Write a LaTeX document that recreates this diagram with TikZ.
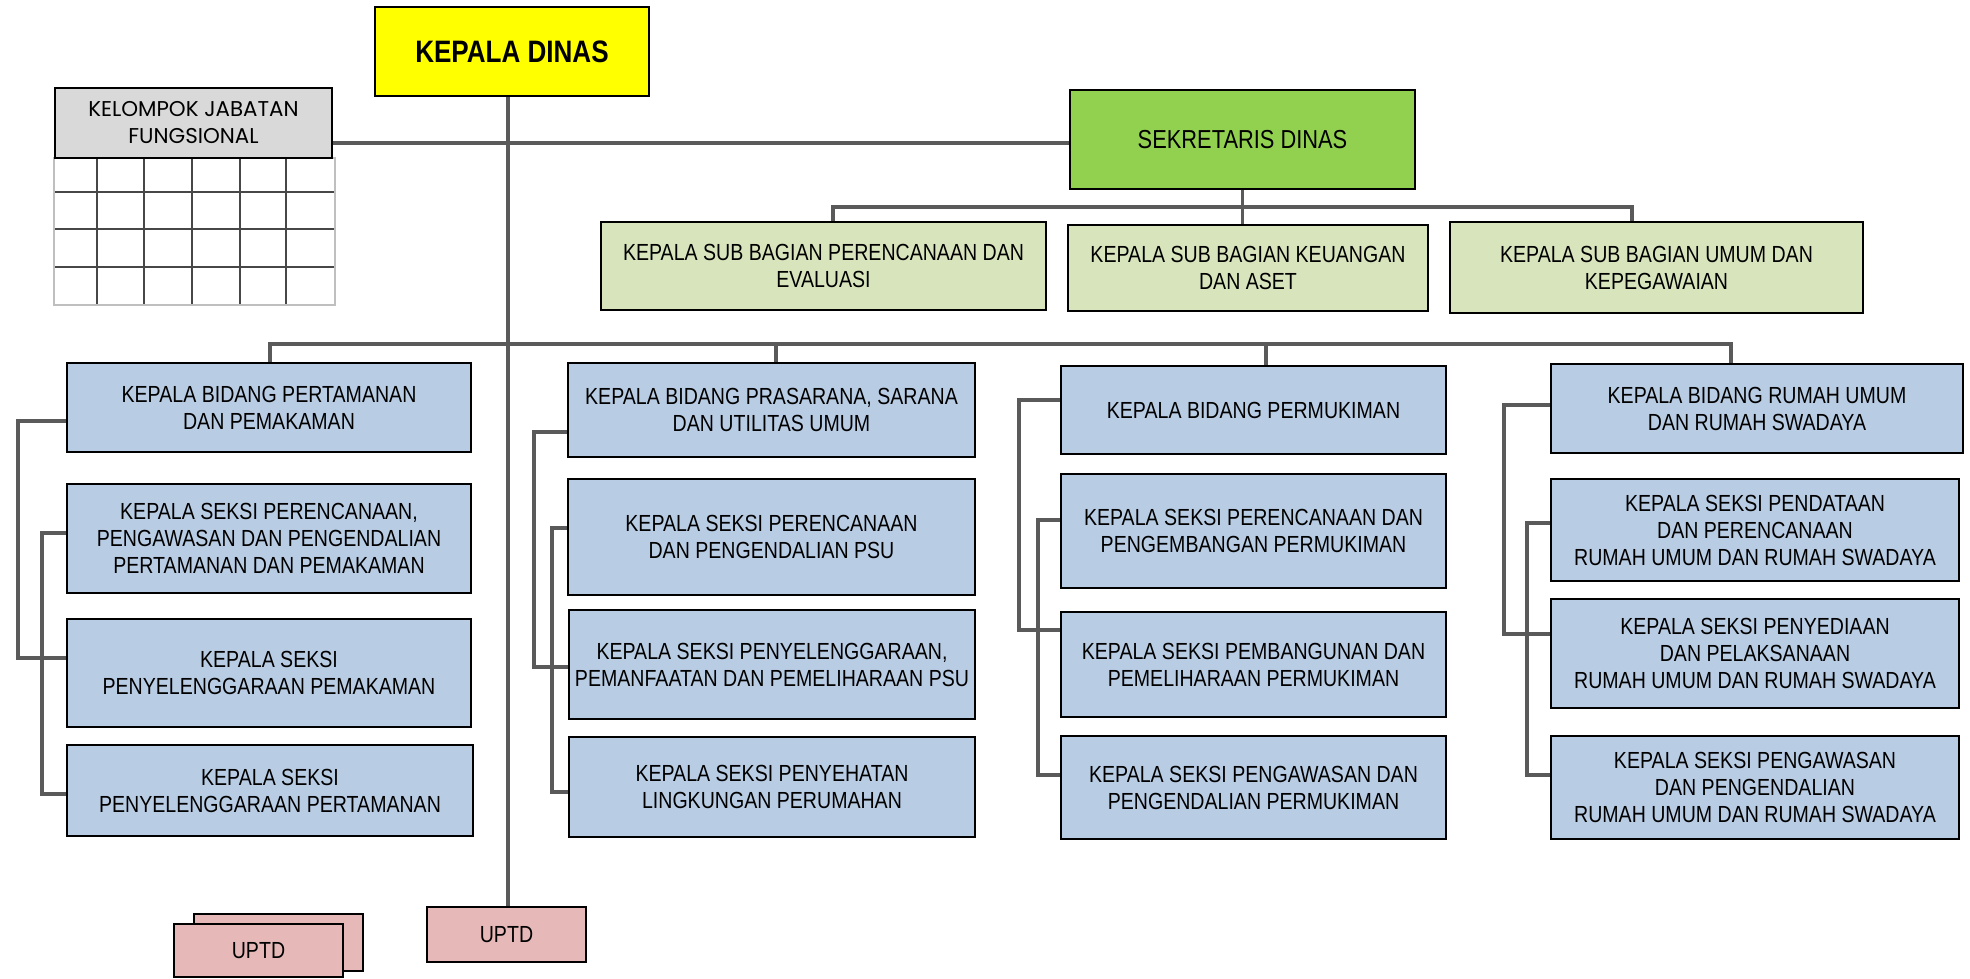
\documentclass[tikz,border=0pt]{standalone}
\usepackage{fontspec}
\newfontfamily\narrowsans{Liberation Sans}[FakeStretch=0.84]
\newfontfamily\geosans{Poppins}

\definecolor{headYellow}{HTML}{FFFF00}
\definecolor{groupGray}{HTML}{D9D9D9}
\definecolor{secGreen}{HTML}{92D050}
\definecolor{subOlive}{HTML}{D8E4BC}
\definecolor{fieldBlue}{HTML}{B8CCE4}
\definecolor{unitPink}{HTML}{E6B8B7}
\definecolor{connGray}{HTML}{5A5A5A}

\tikzset{
  orgbox/.style={draw=black, line width=1pt, inner sep=0pt, align=center,
    font=\narrowsans\fontsize{11.65}{13.5}\selectfont},
  headbox/.style={orgbox, fill=headYellow,
    font=\narrowsans\bfseries\fontsize{15.5}{18}\selectfont},
  groupbox/.style={orgbox, fill=groupGray,
    font=\geosans\fontsize{10.7}{13.5}\selectfont},
  secbox/.style={orgbox, fill=secGreen,
    font=\narrowsans\fontsize{13}{14}\selectfont},
  subbox/.style={orgbox, fill=subOlive},
  fieldbox/.style={orgbox, fill=fieldBlue},
  uptdbox/.style={orgbox, fill=unitPink},
  conn/.style={draw=connGray, line width=1.6pt},
  gridline/.style={draw=black!72, line width=1.1pt},
  gridframe/.style={draw=black!25, line width=1.4pt},
}

% \placebox{name}{style}{x1}{y1}{x2}{y2}{text}: a box spanning two corners
\newcommand\placebox[7]{%
  \pgfmathsetmacro\pbWidth{(#5-#3)*0.5}%
  \pgfmathsetmacro\pbHeight{(#6-#4)*0.5}%
  \pgfmathsetmacro\pbX{(#3+#5)/2}%
  \pgfmathsetmacro\pbY{(#4+#6)/2}%
  \node[#2, minimum width=\pbWidth pt, minimum height=\pbHeight pt]
    (#1) at (\pbX,\pbY) {#7};}

\begin{document}
\begin{tikzpicture}[x=0.5pt, y=-0.5pt]
\useasboundingbox (0,0) rectangle (1970,979);
\fill[white] (0,0) rectangle (1970,979);

% ---- table under the functional group box
\draw[gridline] (97,158) -- (97,304) (144,158) -- (144,304) (192,158) -- (192,304)
  (240,158) -- (240,304) (286,158) -- (286,304);
\draw[gridline] (54,192) -- (335,192) (54,229) -- (335,229) (54,267) -- (335,267);
\draw[gridframe] (54,158) rectangle (335,305);

% ---- top level
\placebox{kd}{headbox}{375}{7}{649}{96}{KEPALA DINAS}
\placebox{kjf}{groupbox}{55}{88}{332}{158}{KELOMPOK JABATAN\\FUNGSIONAL}
\placebox{sd}{secbox}{1070}{90}{1415}{189}{SEKRETARIS DINAS}

% ---- secretariat sub-sections
\placebox{sb1}{subbox}{601}{222}{1046}{310}{KEPALA SUB BAGIAN PERENCANAAN DAN\\EVALUASI}
\placebox{sb2}{subbox}{1068}{225}{1428}{311}{KEPALA SUB BAGIAN KEUANGAN\\DAN ASET}
\placebox{sb3}{subbox}{1450}{222}{1863}{313}{KEPALA SUB BAGIAN UMUM DAN\\KEPEGAWAIAN}

% ---- field 1
\placebox{a0}{fieldbox}{67}{363}{471}{452}{KEPALA BIDANG PERTAMANAN\\DAN PEMAKAMAN}
\placebox{a1}{fieldbox}{67}{484}{471}{593}{KEPALA SEKSI PERENCANAAN,\\PENGAWASAN DAN PENGENDALIAN\\PERTAMANAN DAN PEMAKAMAN}
\placebox{a2}{fieldbox}{67}{619}{471}{727}{KEPALA SEKSI\\PENYELENGGARAAN PEMAKAMAN}
\placebox{a3}{fieldbox}{67}{745}{473}{836}{KEPALA SEKSI\\PENYELENGGARAAN PERTAMANAN}

% ---- field 2
\placebox{b0}{fieldbox}{568}{363}{975}{457}{KEPALA BIDANG PRASARANA, SARANA\\DAN UTILITAS UMUM}
\placebox{b1}{fieldbox}{568}{479}{975}{595}{KEPALA SEKSI PERENCANAAN\\DAN PENGENDALIAN PSU}
\placebox{b2}{fieldbox}{569}{610}{975}{719}{KEPALA SEKSI PENYELENGGARAAN,\\PEMANFAATAN DAN PEMELIHARAAN PSU}
\placebox{b3}{fieldbox}{569}{737}{975}{837}{KEPALA SEKSI PENYEHATAN\\LINGKUNGAN PERUMAHAN}

% ---- field 3
\placebox{c0}{fieldbox}{1061}{366}{1446}{454}{KEPALA BIDANG PERMUKIMAN}
\placebox{c1}{fieldbox}{1061}{474}{1446}{588}{KEPALA SEKSI PERENCANAAN DAN\\PENGEMBANGAN PERMUKIMAN}
\placebox{c2}{fieldbox}{1061}{612}{1446}{717}{KEPALA SEKSI PEMBANGUNAN DAN\\PEMELIHARAAN PERMUKIMAN}
\placebox{c3}{fieldbox}{1061}{736}{1446}{839}{KEPALA SEKSI PENGAWASAN DAN\\PENGENDALIAN PERMUKIMAN}

% ---- field 4
\placebox{d0}{fieldbox}{1551}{364}{1963}{453}{KEPALA BIDANG RUMAH UMUM\\DAN RUMAH SWADAYA}
\placebox{d1}{fieldbox}{1551}{479}{1959}{581}{KEPALA SEKSI PENDATAAN\\DAN PERENCANAAN\\RUMAH UMUM DAN RUMAH SWADAYA}
\placebox{d2}{fieldbox}{1551}{599}{1959}{708}{KEPALA SEKSI PENYEDIAAN\\DAN PELAKSANAAN\\RUMAH UMUM DAN RUMAH SWADAYA}
\placebox{d3}{fieldbox}{1551}{736}{1959}{839}{KEPALA SEKSI PENGAWASAN\\DAN PENGENDALIAN\\RUMAH UMUM DAN RUMAH SWADAYA}

% ---- technical units
\placebox{u1}{uptdbox}{427}{907}{586}{962}{UPTD}
\placebox{u2back}{uptdbox}{194}{914}{363}{971}{}
\placebox{u2}{uptdbox}{174}{924}{343}{977}{UPTD}

% ---- connectors
% main spine
\draw[conn] (kd.south -| 508,0) -- (u1.north -| 508,0);
% functional group to secretary
\draw[conn] (kjf.east |- 0,143) -- (sd.west |- 0,143);
% secretary to sub-sections
\draw[conn] (sd.south) -- (sb2.north -| sd.south);
\draw[conn] (sb1.north -| 833,0) -- (833,207) -- (1632,207) -- (sb3.north -| 1632,0);
% field heads bar
\draw[conn] (a0.north -| 270,0) -- (270,344) -- (1731,344) -- (d0.north -| 1731,0);
\draw[conn] (776,344) -- (b0.north -| 776,0);
\draw[conn] (1266,344) -- (c0.north -| 1266,0);

% field 1 brackets
\draw[conn] (a0.west |- 0,421) -- (18,421) -- (18,658) -- (a2.west |- 0,658);
\draw[conn] (a1.west |- 0,533) -- (42,533) -- (42,794) -- (a3.west |- 0,794);
% field 2 brackets
\draw[conn] (b0.west |- 0,432) -- (534,432) -- (534,667) -- (b2.west |- 0,667);
\draw[conn] (b1.west |- 0,528) -- (552,528) -- (552,792) -- (b3.west |- 0,792);
% field 3 brackets
\draw[conn] (c0.west |- 0,400) -- (1019,400) -- (1019,630) -- (c2.west |- 0,630);
\draw[conn] (c1.west |- 0,520) -- (1038,520) -- (1038,775) -- (c3.west |- 0,775);
% field 4 brackets
\draw[conn] (d0.west |- 0,405) -- (1504,405) -- (1504,634) -- (d2.west |- 0,634);
\draw[conn] (d1.west |- 0,523) -- (1527,523) -- (1527,775) -- (d3.west |- 0,775);
\end{tikzpicture}
\end{document}
